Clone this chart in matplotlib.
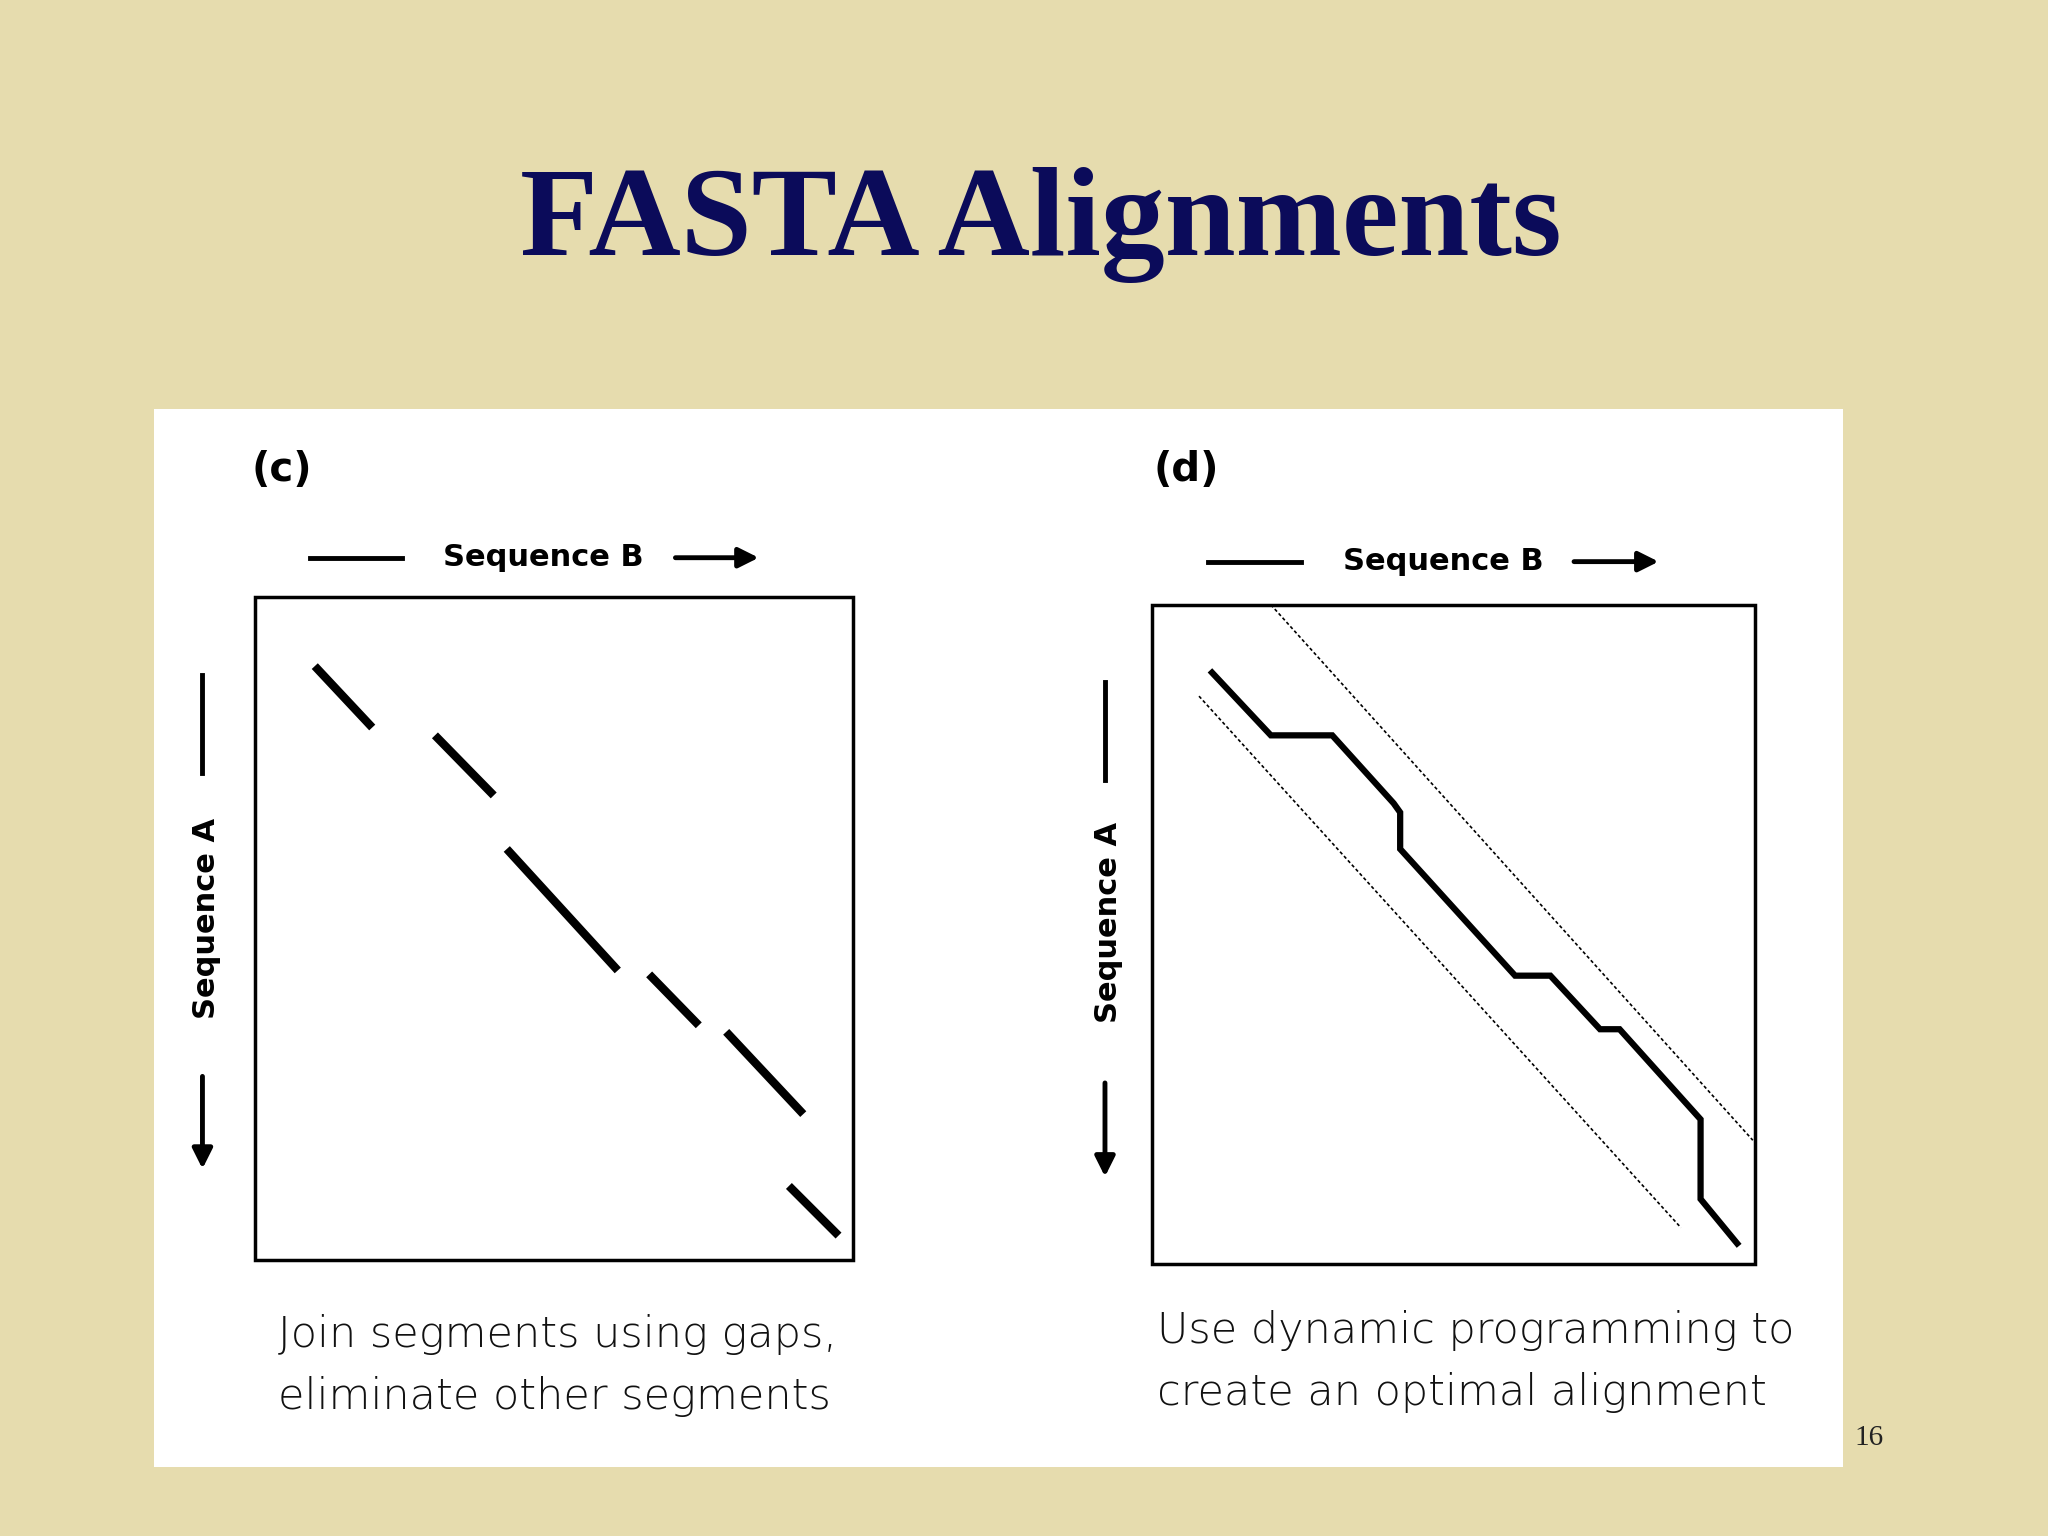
"""FASTA alignments slide: panels (c) and (d) drawn on a single pixel-space axes."""
import matplotlib.pyplot as plt
from matplotlib.patches import Rectangle

# coordinates in slide pixels (1568 x 1176 grid, y downward)
W, H = 1568, 1176
BG = '#e6dcae'
NAVY = '#0b0b5a'

# panel (c): diagonal segments kept after joining
c_box = (195, 457, 653, 965)
c_segments = [
    ((241, 510), (285, 557)),
    ((333, 563), (378, 609)),
    ((388, 650), (473, 743)),
    ((497, 746), (535, 785)),
    ((556, 790), (615, 853)),
    ((604, 908), (642, 946)),
]

# panel (d): optimal path and band limits
d_box = (882, 463, 1344, 968)
d_path_x = [928, 973, 1020, 1067, 1072, 1072, 1160, 1187, 1225, 1240, 1302, 1302, 1330]
d_path_y = [515, 563, 563, 615, 622, 650, 747, 747, 788, 788, 857, 918, 952]
d_band = [((973, 463), (1342, 873)), ((918, 533), (1287, 940))]

captions = {
    'c': ["Join segments using gaps,", "eliminate other segments"],
    'd': ["Use dynamic programming to", "create an optimal alignment"],
}

fig = plt.figure(figsize=(20.48, 15.36), dpi=100, facecolor=BG)
ax = fig.add_axes([0, 0, 1, 1])
ax.set_xlim(0, W)
ax.set_ylim(H, 0)
ax.axis('off')
ax.set_facecolor(BG)

ax.text(797, 172, "FASTA Alignments", ha='center', va='center',
        family='Liberation Serif', weight='bold', fontsize=92, color=NAVY)
ax.add_patch(Rectangle((118, 313), 1293, 810, facecolor='white', edgecolor='none'))
ax.text(1420, 1101, "16", ha='left', va='center', family='Liberation Serif',
        fontsize=21, color='#222222')


def draw_frame(box, label, lx, seqb, seqa):
    x0, y0, x1, y1 = box
    ax.add_patch(Rectangle((x0, y0), x1 - x0, y1 - y0, fill=False,
                           edgecolor='black', linewidth=2.5))
    ax.text(lx, 360, label, ha='center', va='center', fontsize=29, weight='bold')
    # Sequence B header
    ly, la, lb, tx, aa, ab = seqb
    ax.plot([la, lb], [ly, ly], color='black', lw=3.5)
    ax.text(tx, ly, "Sequence B", ha='center', va='center', fontsize=22, weight='bold')
    ax.annotate('', xy=(ab, ly), xytext=(aa, ly),
                arrowprops=dict(arrowstyle='-|>', color='black', lw=3.5,
                                mutation_scale=30))
    # Sequence A side label
    sx, sa, sb, ty, va, vb = seqa
    ax.plot([sx, sx], [sa, sb], color='black', lw=3.5)
    ax.text(sx + 3, ty, "Sequence A", ha='center', va='center', fontsize=22,
            weight='bold', rotation=90)
    ax.annotate('', xy=(sx, vb), xytext=(sx, va),
                arrowprops=dict(arrowstyle='-|>', color='black', lw=3.5,
                                mutation_scale=30))


draw_frame(c_box, "(c)", 216, (427, 237, 308, 416, 515, 583), (155, 517, 592, 703, 822, 897))
draw_frame(d_box, "(d)", 908, (430, 925, 996, 1105, 1203, 1272), (846, 522, 597, 706, 827, 903))

for (xa, ya), (xb, yb) in c_segments:
    ax.plot([xa, xb], [ya, yb], color='black', lw=6, solid_capstyle='butt')

ax.plot(d_path_x, d_path_y, color='black', lw=4.5, solid_joinstyle='miter')
for (xa, ya), (xb, yb) in d_band:
    ax.plot([xa, xb], [ya, yb], color='black', lw=1.2, linestyle=(0, (2, 1.5)))

for key, x in (('c', 213), ('d', 886)):
    for i, line in enumerate(captions[key]):
        ax.text(x, 1022 + 47 * i - (3 if key == 'd' else 0), line, ha='left',
                va='center', fontsize=31, color='#111111', family='DejaVu Sans',
                weight='light')

fig.savefig('out.png', dpi=100, facecolor=BG)
